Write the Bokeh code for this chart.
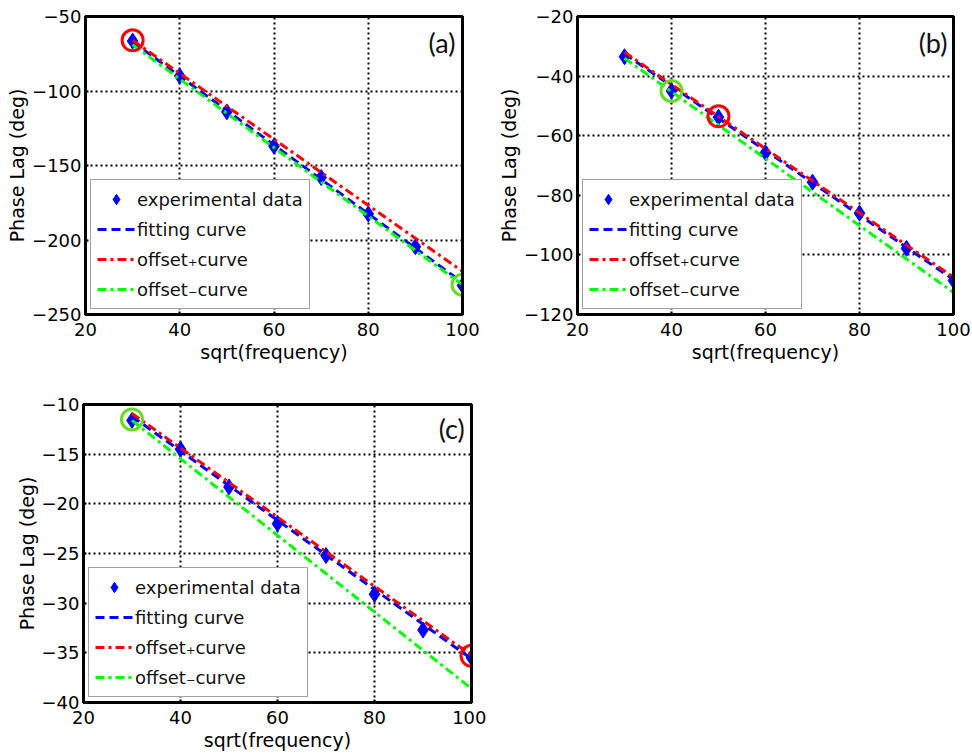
from bokeh.plotting import figure
from bokeh.layouts import column, row
from bokeh.models import Legend, LegendItem, Label, FixedTicker, LinearAxis
from bokeh.embed import file_html
from bokeh.resources import INLINE

# ---- data ----
x_exp = [30, 40, 50, 60, 70, 80, 90, 100]
x_line = [30, 100]

a_exp = [-66.5, -90, -114, -137, -158, -182.5, -204.5, -230.5]
a_fit = [-67, -228.5]
a_plus = [-66, -221]
a_minus = [-69, -230]
a_red_pt = [30, -66]
a_green_pt = [100, -230]
a_yticks = [-250, -200, -150, -100, -50]

b_exp = [-33.5, -45, -53.8, -65.7, -75.6, -86, -97.8, -108.6]
b_fit = [-32.5, -108.3]
b_plus = [-32, -107.5]
b_minus = [-34, -112.6]
b_red_pt = [50, -53.5]
b_green_pt = [40, -45]
b_yticks = [-120, -100, -80, -60, -40, -20]

c_exp = [-11.6, -14.5, -18.3, -22.0, -25.2, -29.1, -32.7, -35.5]
c_fit = [-11.2, -35.6]
c_plus = [-10.9, -35.25]
c_minus = [-11.6, -38.6]
c_red_pt = [100, -35.3]
c_green_pt = [30, -11.5]
c_yticks = [-40, -35, -30, -25, -20, -15, -10]

x_ticks = [20, 40, 60, 80, 100]

FONT = "DejaVu Sans"


def style_axis(ax):
    ax.axis_line_color = "black"
    ax.axis_line_width = 3
    ax.major_tick_in = 3
    ax.major_tick_out = 0
    ax.minor_tick_line_color = None
    ax.major_tick_line_color = "black"
    ax.major_tick_line_width = 2
    ax.major_label_text_font = FONT
    ax.major_label_text_font_size = "18px"
    ax.major_label_text_color = "black"
    ax.axis_label_text_font = FONT
    ax.axis_label_text_font_size = "19px"
    ax.axis_label_text_font_style = "normal"
    ax.axis_label_text_color = "black"


def panel(tag, exp, fit, plus, minus, red_pt, green_pt, yticks, width, height,
          bl, bt, br, bb, label_xy):
    p = figure(width=width, height=height, x_range=(20, 100),
               y_range=(yticks[0], yticks[-1]),
               output_backend="svg", toolbar_location=None,
               min_border_left=bl, min_border_top=bt, min_border_right=br,
               min_border_bottom=bb)
    p.outline_line_color = "black"
    p.outline_line_width = 3
    p.outline_line_alpha = 1
    style_axis(p.xaxis[0])
    style_axis(p.yaxis[0])
    p.xaxis.ticker = FixedTicker(ticks=x_ticks)
    p.yaxis.ticker = FixedTicker(ticks=yticks)
    p.xaxis.axis_label = "sqrt(frequency)"
    p.yaxis.axis_label = "Phase Lag (deg)"
    p.xaxis.major_label_standoff = 8
    p.yaxis.major_label_standoff = 4
    p.xaxis.axis_label_standoff = 2
    p.yaxis.axis_label_standoff = 1

    # plain frame lines on the right and top (no ticks, no labels)
    for side in ("right", "above"):
        ax = LinearAxis(ticker=FixedTicker(ticks=[]))
        style_axis(ax)
        ax.major_tick_line_color = None
        ax.major_label_standoff = 0
        p.add_layout(ax, side)

    p.grid.grid_line_color = "black"
    p.grid.grid_line_dash = "2 3"
    p.grid.grid_line_width = 2
    p.background_fill_color = "white"

    r_exp = p.scatter(x_exp, exp, marker="diamond", size=16, color="#0000ff")
    r_fit = p.line(x_line, fit, color="#0000ff", line_width=3, line_dash="9 5")
    r_plus = p.line(x_line, plus, color="#ff0000", line_width=3, line_dash="9 4 3 4")
    r_minus = p.line(x_line, minus, color="#00ff00", line_width=3, line_dash="9 4 3 4")
    p.scatter([red_pt[0]], [red_pt[1]], marker="circle", size=21,
              fill_color=None, line_color="#ff0000", line_width=3)
    p.scatter([green_pt[0]], [green_pt[1]], marker="circle", size=21,
              fill_color=None, line_color="#66dd22", line_width=3)

    legend = Legend(items=[
        LegendItem(label="experimental data", renderers=[r_exp]),
        LegendItem(label="fitting curve", renderers=[r_fit]),
        LegendItem(label="offset\u208acurve", renderers=[r_plus]),
        LegendItem(label="offset\u208bcurve", renderers=[r_minus]),
    ], location="bottom_left")
    legend.margin = 5
    legend.padding = 6
    legend.spacing = 4
    legend.label_height = 26
    legend.glyph_height = 26
    legend.glyph_width = 38
    legend.label_standoff = 2
    legend.label_text_font = FONT
    legend.label_text_font_size = "18px"
    legend.label_text_color = "#111111"
    legend.border_line_color = "#444444"
    legend.border_line_width = 1
    legend.background_fill_alpha = 1
    p.add_layout(legend, "center")

    p.add_layout(Label(x=label_xy[0], y=label_xy[1], text=tag,
                       text_align="right", text_baseline="middle",
                       text_font="Lato", text_font_size="27px",
                       text_color="#111111"))
    return p


pa = panel("(a)", a_exp, a_fit, a_plus, a_minus, a_red_pt, a_green_pt, a_yticks,
           486, 370, 85, 16, 24, 55, (98.5, -67.4))
pb = panel("(b)", b_exp, b_fit, b_plus, b_minus, b_red_pt, b_green_pt, b_yticks,
           486, 370, 91, 16, 19, 56, (98.7, -28.7))
pc = panel("(c)", c_exp, c_fit, c_plus, c_minus, c_red_pt, c_green_pt, c_yticks,
           486, 383, 83, 34, 15, 50, (98.6, -12.4))

layout = column(row(pa, pb, spacing=0), row(pc, spacing=0), spacing=0)
open("out.html", "w").write(file_html(layout, INLINE))
